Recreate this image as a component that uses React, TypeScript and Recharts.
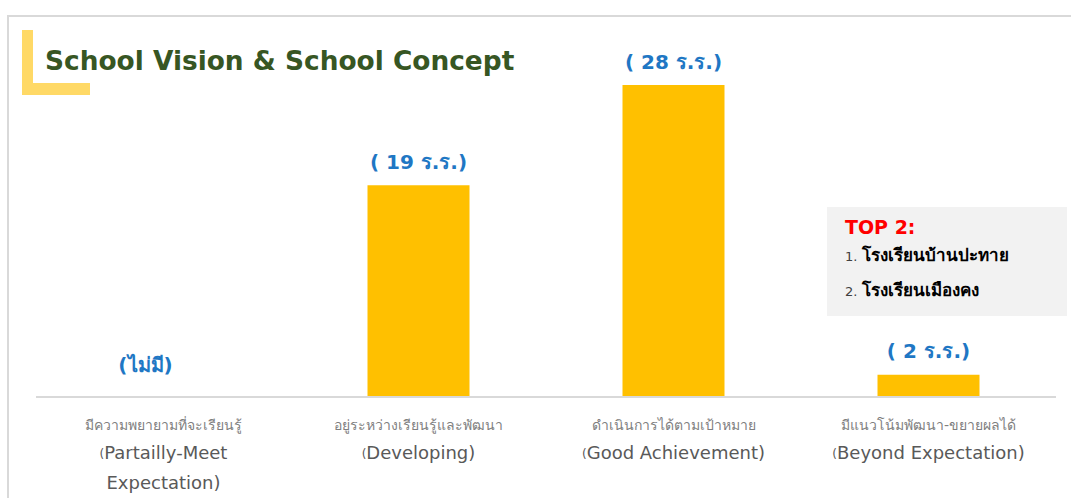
import React from "react";
import { Bar, BarChart, LabelList, XAxis, YAxis } from "recharts";

const thaiLabels = [
  "มีความพยายามที่จะเรียนรู้",
  "อยู่ระหว่างเรียนรู้และพัฒนา",
  "ดำเนินการได้ตามเป้าหมาย",
  "มีแนวโน้มพัฒนา-ขยายผลได้",
];
const englishLines = [
  ["Partailly-Meet", "Expectation)"],
  ["Developing)"],
  ["Good Achievement)"],
  ["Beyond Expectation)"],
];
const schoolCounts = [0, 19, 28, 2];
const topSchools = ["โรงเรียนบ้านปะทาย", "โรงเรียนเมืองคง"];

const chartData = thaiLabels.map((th, i) => ({
  key: String(i),
  th,
  en: englishLines[i],
  count: schoolCounts[i],
}));

const W = 1071;
const H = 498;
const FONT = "Tahoma, 'DejaVu Sans', 'Noto Sans', sans-serif";

function CategoryTick(props: any) {
  const { x, y, payload } = props;
  const row = chartData[Number(payload.value)];
  return (
    <g transform={`translate(${x},${y})`}>
      {row.count === 0 && (
        // zero bars are not drawn, so their "none" note sits on the tick
        <text x={-18} y={-39} textAnchor="middle" dominantBaseline="middle" fontSize={20} fontWeight="bold" fill="#1f77c4" fontFamily={FONT}>
          (ไม่มี)
        </text>
      )}
      <text textAnchor="middle" y={21} fontSize={14} fill="#7f7f7f" fontFamily={FONT} dominantBaseline="middle">
        {row.th}
      </text>
      {row.en.map((line, i) => (
        <text key={i} textAnchor="middle" y={49 + i * 30} fontSize={18} fill="#595959" fontFamily={FONT} dominantBaseline="middle">
          {i === 0 && <tspan fontSize={12}>(</tspan>}
          {line}
        </text>
      ))}
    </g>
  );
}

function CountLabel(props: any) {
  const { x, y, width, value } = props;
  if (!value) return null;
  return (
    <text x={x + width / 2} y={y - 22} textAnchor="middle" dominantBaseline="middle" fontSize={20} fontWeight="bold" fill="#1f77c4" fontFamily={FONT}>
      {`( ${value} ร.ร.)`}
    </text>
  );
}

export default function App() {
  return (
    <div style={{ position: "fixed", left: 0, top: 0, width: W, height: H, background: "#fff", overflow: "hidden" }}>
      <div style={{ position: "absolute", left: 7, top: 15, width: W, height: H, borderTop: "2px solid #d9d9d9", borderLeft: "2px solid #d9d9d9" }} />
      <div style={{ position: "absolute", left: 22, top: 30, width: 11, height: 65, background: "#ffd966" }} />
      <div style={{ position: "absolute", left: 22, top: 83, width: 68, height: 12, background: "#ffd966" }} />
      <div style={{ position: "absolute", left: 45, top: 45, fontFamily: FONT, fontWeight: "bold", fontSize: 26.4, color: "#375623", whiteSpace: "nowrap" }}>
        School Vision &amp; School Concept
      </div>
      <BarChart width={W} height={H} data={chartData} margin={{ top: 85, right: 15, bottom: 71, left: 36 }} barCategoryGap="30%">
        <XAxis dataKey="key" tick={<CategoryTick />} tickLine={false} axisLine={{ stroke: "#d9d9d9", strokeWidth: 2 }} interval={0} />
        <YAxis hide domain={[0, 28]} />
        <Bar dataKey="count" fill="#ffc000" isAnimationActive={false}>
          <LabelList dataKey="count" content={<CountLabel />} />
        </Bar>
      </BarChart>
      <div style={{ position: "absolute", left: 827, top: 207, width: 240, height: 109, background: "#f2f2f2", fontFamily: FONT }}>
        <div style={{ position: "absolute", left: 18, top: 9, color: "#ff0000", fontWeight: "bold", fontSize: 19 }}>TOP 2:</div>
        {topSchools.map((s, i) => (
          <div key={s} style={{ position: "absolute", left: 18, top: 34 + i * 35, whiteSpace: "nowrap", color: "#000" }}>
            <span style={{ fontSize: 13, color: "#404040" }}>{i + 1}. </span>
            <span style={{ fontSize: 17, fontWeight: "bold" }}>{s}</span>
          </div>
        ))}
      </div>
    </div>
  );
}
